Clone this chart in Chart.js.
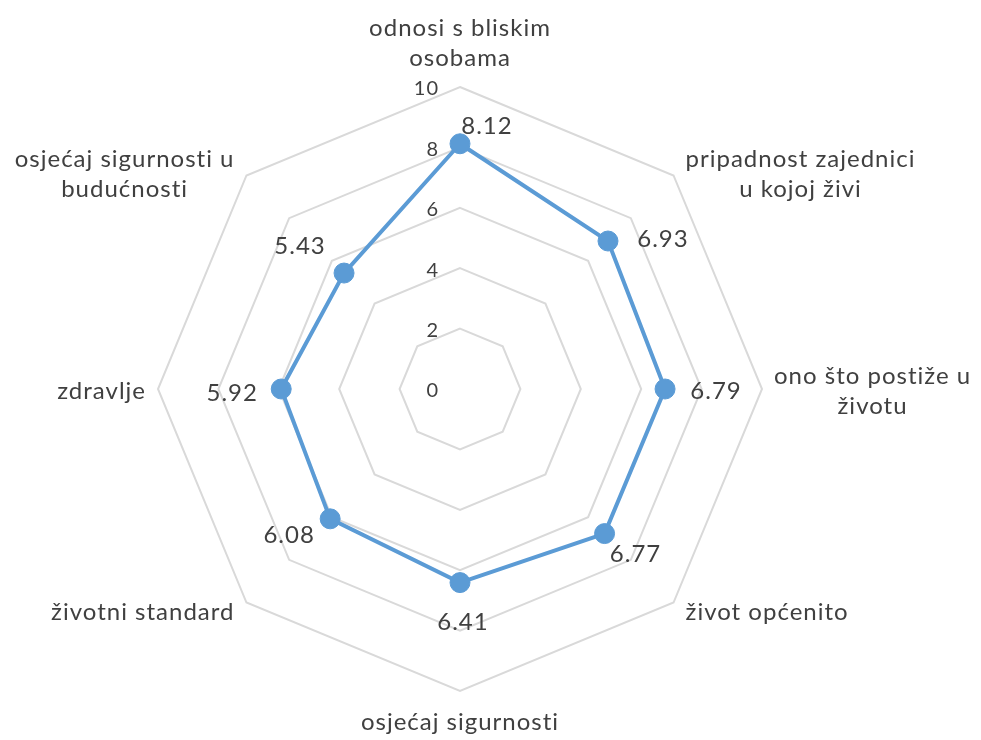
<!DOCTYPE html>
<html lang="hr">
<head>
<meta charset="utf-8">
<script src="https://cdn.jsdelivr.net/npm/chart.js@4.4.1/dist/chart.umd.min.js"></script>
<style>
  html, body { margin: 0; padding: 0; background: #fff; }
  #wrap { position: relative; width: 981px; height: 740px; }
</style>
</head>
<body>
<div id="wrap"><canvas id="radar"></canvas></div>
<script>
// categories, clockwise from the top
const categories = [
    ['odnosi s bliskim', 'osobama'],
    ['pripadnost zajednici', 'u kojoj živi'],
    ['ono što postiže u', 'životu'],
    ['život općenito'],
    ['osjećaj sigurnosti'],
    ['životni standard'],
    ['zdravlje'],
    ['osjećaj sigurnosti u', 'budućnosti']
];
const values = [8.12, 6.93, 6.79, 6.77, 6.41, 6.08, 5.92, 5.43];
const tickValues = [0, 2, 4, 6, 8, 10];

const TEXT = '#404040';
const FONT = 'Lato, "Open Sans", sans-serif';

// where each value label's centre sits relative to its point
const valueLabelShift = [[27, -18], [55, -2], [51, 2], [31, 21], [3, 40], [-41, 16], [-49, 4], [-44, -27]];

// draws tick numbers, category labels and value labels
const textPlugin = {
    id: 'radarText',
    afterDraw(chart) {
        const ctx = chart.ctx;
        const r = chart.scales.r;
        const outer = r.getDistanceFromCenterForValue(r.max);
        ctx.save();
        ctx.fillStyle = TEXT;
        ctx.textBaseline = 'middle';
        ctx.letterSpacing = '1px';

        // tick labels, left of the top spoke
        ctx.font = '20px ' + FONT;
        ctx.textAlign = 'right';
        tickValues.forEach(v => {
            const d = r.getDistanceFromCenterForValue(v);
            ctx.fillText(String(v), r.xCenter - 21, r.yCenter - d + 2);
        });

        // category labels round the outer ring
        ctx.font = '24px ' + FONT;
        ctx.textAlign = 'center';
        const lh = 30;
        categories.forEach((lines, i) => {
            const p = r.getPointPosition(i, outer);
            const cos = Math.cos(p.angle), sin = Math.sin(p.angle);
            const w = Math.max(...lines.map(s => ctx.measureText(s).width));
            const h = lines.length * lh;
            let cx, cy;
            if (cos > 0.1) cx = p.x + 12 + w / 2;
            else if (cos < -0.1) cx = p.x - 12 - w / 2;
            else cx = p.x;
            if (Math.abs(cos) > 0.9) cy = p.y + 2;
            else if (Math.abs(sin) > 0.9) cy = sin < 0 ? p.y - 14 - h / 2 : p.y + 16 + h / 2;
            else cy = p.y + sin * 8 + 4;
            lines.forEach((s, k) => ctx.fillText(s, cx, cy - h / 2 + lh / 2 + k * lh));
        });

        // value labels
        const meta = chart.getDatasetMeta(0);
        meta.data.forEach((pt, i) => {
            const [dx, dy] = valueLabelShift[i];
            ctx.fillText(values[i].toFixed(2), pt.x + dx, pt.y + dy);
        });
        ctx.restore();
    }
};

new Chart(document.getElementById('radar'), {
    type: 'radar',
    data: {
        labels: categories,
        datasets: [{
            data: values,
            borderColor: '#5b9bd5',
            backgroundColor: '#5b9bd5',
            borderWidth: 4,
            pointRadius: 10,
            pointBackgroundColor: '#5b9bd5',
            pointBorderColor: '#5b9bd5',
            pointBorderWidth: 1,
            fill: false,
            tension: 0
        }]
    },
    options: {
        responsive: true,
        maintainAspectRatio: false,
        animation: false,
        layout: { padding: { left: 158, top: 87, right: 219, bottom: 49 } },
        plugins: { legend: { display: false }, tooltip: { enabled: false } },
        scales: {
            r: {
                min: 0,
                max: 10,
                ticks: { stepSize: 2, display: false },
                grid: { color: '#d9d9d9', lineWidth: 2 },
                angleLines: { display: false },
                pointLabels: { display: false }
            }
        }
    },
    plugins: [textPlugin]
});
</script>
</body>
</html>
